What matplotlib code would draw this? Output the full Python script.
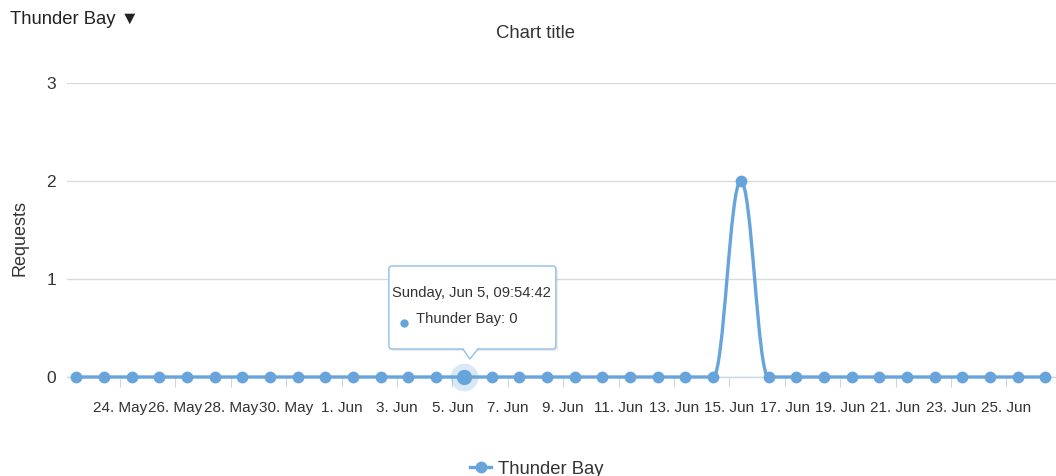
import matplotlib
matplotlib.use('Agg')
import matplotlib.pyplot as plt
import matplotlib.dates as mdates
import matplotlib.transforms as mtransforms
from matplotlib.path import Path
from matplotlib.patches import PathPatch, FancyBboxPatch, Polygon
from matplotlib.lines import Line2D
import pandas as pd

plt.rcParams['font.family'] = ['Liberation Sans', 'DejaVu Sans']

series_name = 'Thunder Bay'
first_sample = '2016-05-22 09:54:42'
requests = [0, 0, 0, 0, 0, 0, 0, 0, 0, 0,
            0, 0, 0, 0, 0, 0, 0, 0, 0, 0,
            0, 0, 0, 0, 2, 0, 0, 0, 0, 0,
            0, 0, 0, 0, 0, 0]
y_ticks = [0, 1, 2, 3]
hover_index = 14  # point under the tooltip
tick_dates = pd.date_range('2016-05-24', '2016-06-25', freq='2D')
tick_labels = [f'{d.day}. {d:%b}' for d in tick_dates]

line_color = '#68a4dc'
text_color = '#333333'
axis_color = '#ccd6eb'
grid_color = '#dadada'


def spline_controls(xs, ys, i, smoothing=1.5):
    # Highcharts-style spline control points around point i
    x, y = xs[i], ys[i]
    if i == 0 or i == len(xs) - 1:
        return (x, y), (x, y)
    xp, yp = xs[i - 1], ys[i - 1]
    xn, yn = xs[i + 1], ys[i + 1]
    d = smoothing + 1
    lx, ly = (smoothing * x + xp) / d, (smoothing * y + yp) / d
    rx, ry = (smoothing * x + xn) / d, (smoothing * y + yn) / d
    corr = (ry - ly) * (rx - x) / (rx - lx) + y - ry
    ly += corr
    ry += corr
    # keep control points from overshooting the neighbours
    if ly > yp and ly > y:
        ly = max(yp, y)
        ry = 2 * y - ly
    elif ly < yp and ly < y:
        ly = min(yp, y)
        ry = 2 * y - ly
    if ry > yn and ry > y:
        ry = max(yn, y)
        ly = 2 * y - ry
    elif ry < yn and ry < y:
        ry = min(yn, y)
        ly = 2 * y - ry
    return (lx, ly), (rx, ry)


dates = pd.date_range(first_sample, periods=len(requests), freq='D')
xs = mdates.date2num(dates)

verts = [(xs[0], requests[0])]
codes = [Path.MOVETO]
for i in range(1, len(xs)):
    _, c1 = spline_controls(xs, requests, i - 1)
    c2, _ = spline_controls(xs, requests, i)
    verts += [c1, c2, (xs[i], requests[i])]
    codes += [Path.CURVE4] * 3

fig = plt.figure(figsize=(10.56, 4.76), dpi=100)
ax = fig.add_axes([67 / 1056, 99 / 476, 989 / 1056, 294 / 476])

ax.add_patch(PathPatch(Path(verts, codes), fill=False, edgecolor=line_color,
                       lw=2.4, clip_on=False, zorder=3, capstyle='round',
                       joinstyle='round'))
ax.plot(xs, requests, 'o', ms=8.5, color=line_color, mew=0, clip_on=False, zorder=4)

# hovered point with halo
h = hover_index
ax.plot(xs[h], requests[h], 'o', ms=20, color=line_color, alpha=0.25, mew=0,
        clip_on=False, zorder=5)
ax.plot(xs[h], requests[h], 'o', ms=11, color=line_color, mew=0,
        clip_on=False, zorder=6)

ax.set_xlim(xs[0] - 0.33, xs[-1] + 0.38)
ax.set_ylim(y_ticks[0], y_ticks[-1])
ax.set_yticks(y_ticks)
ax.set_xticks(mdates.date2num(tick_dates))
ax.set_xticklabels(tick_labels)

for side in ['top', 'right', 'left']:
    ax.spines[side].set_visible(False)
ax.spines['bottom'].set_color(axis_color)
ax.spines['bottom'].set_linewidth(1)
ax.grid(axis='y', color=grid_color, lw=1)
ax.set_axisbelow(True)

ax.tick_params(axis='y', length=0, pad=8, labelsize=12.5, labelcolor=text_color)
ax.tick_params(axis='x', length=7.5, width=0.8, color=axis_color, pad=10,
               labelsize=11, labelcolor=text_color)

ax.set_ylabel('Requests', fontsize=13, color=text_color)
ax.yaxis.set_label_coords((29 - 67) / 989, (377 - 238) / 294)

fig.text(535 / 1056, 1 - 34 / 476, 'Chart title', ha='center', va='center',
         fontsize=13.3, color=text_color)
fig.text(10 / 1056, 1 - 20 / 476, 'Thunder Bay ▼', ha='left', va='center',
         fontsize=13.3, color='#222222')

# tooltip anchored to the hovered point (offsets in pixels)
px, py = ax.transData.transform((xs[h], requests[h]))
tip = mtransforms.Affine2D().translate(px, py)
ax.add_patch(FancyBboxPatch((-73, 26), 167, 83,
                            boxstyle='round,pad=0,rounding_size=3',
                            fc='black', ec='none', alpha=0.08,
                            transform=tip, clip_on=False, zorder=7))
ax.add_patch(FancyBboxPatch((-75, 28), 167, 83,
                            boxstyle='round,pad=0,rounding_size=3',
                            fc='white', ec='#8fbfe8', lw=1,
                            transform=tip, clip_on=False, zorder=8))
ax.add_patch(Polygon([(-1, 29), (6, 18), (14, 29)], closed=True, fc='white',
                     ec='none', transform=tip, clip_on=False, zorder=9))
ax.add_line(Line2D([-1, 6, 14], [28, 18, 28], color='#8fbfe8', lw=1,
                   transform=tip, clip_on=False, zorder=9))
ax.text(8, 84, 'Sunday, Jun 5, 09:54:42', ha='center', va='center',
        fontsize=10.6, color=text_color, transform=tip, zorder=10)
ax.plot([-60], [54], 'o', ms=6, color=line_color, mew=0, transform=tip,
        clip_on=False, zorder=10)
ax.text(-48, 58, f'{series_name}: {requests[h]}', ha='left', va='center',
        fontsize=10.6, color=text_color, transform=tip, zorder=10)

handle = Line2D([], [], color=line_color, lw=2.4, marker='o', ms=8.5, mew=0)
fig.legend([handle], [series_name], loc='center',
           bbox_to_anchor=(537 / 1056, 7 / 476), frameon=False, fontsize=13.3,
           handlelength=1.1, handletextpad=0.4, borderpad=0,
           labelcolor=text_color)

fig.savefig('out.png', dpi=100)
